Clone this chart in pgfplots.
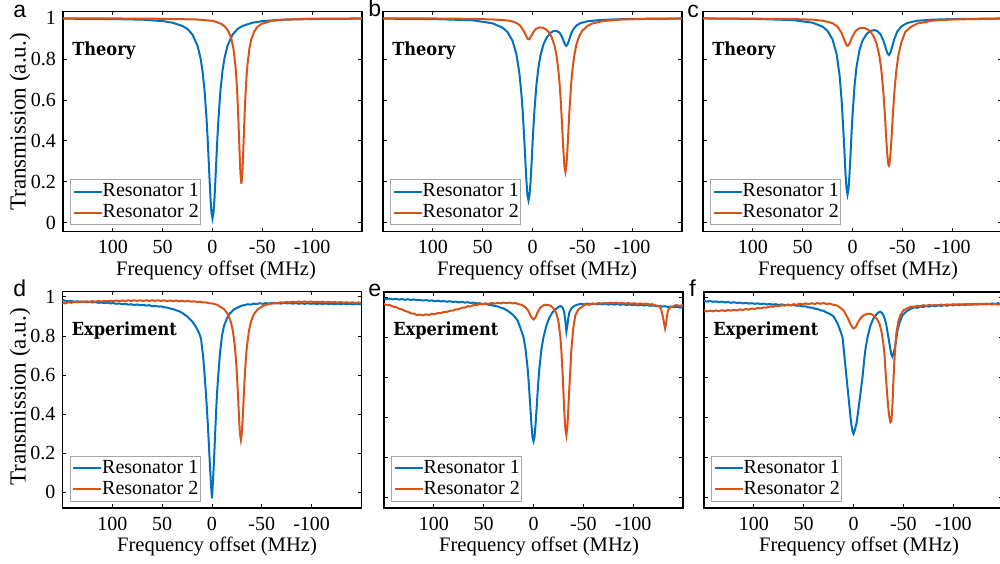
\documentclass[border=0pt]{standalone}
\usepackage{fontspec}
\setmainfont{Liberation Serif}
\newfontfamily\lblfont{Liberation Sans}
\newfontfamily\tagfont{DejaVu Serif Condensed}
\usepackage{pgfplots}
\pgfplotsset{compat=1.18}
\definecolor{res1}{HTML}{0072BD}
\definecolor{res2}{HTML}{D95319}
\definecolor{legframe}{HTML}{A6A6A6}

% 1 px of the reference = 0.5pt
\pgfplotsset{
  panel/.style={
    scale only axis, width=149.5pt,
    xmin=-150, xmax=150, x dir=reverse,
    xtick={-100,-50,0,50,100},
    ytick={0,0.2,0.4,0.6,0.8,1},
    tick align=inside, major tick length=1.8pt,
    tick style={black, line width=0.4pt},
    axis line style={black, line width=0.9pt},
    ticklabel style={font=\fontsize{10}{12}\selectfont},
    xticklabel style={yshift=-1pt},
    /pgf/number format/assume math mode=true,
    legend cell align=left,
    legend image code/.code={\draw[##1] (0pt,0pt) -- (14pt,0pt);},
    legend style={at={(axis description cs:0.024,0.028)}, anchor=south west,
      draw=legframe, line width=0.5pt, fill=white,
      inner xsep=1pt, inner ysep=0.5pt, row sep=-0.5pt,
      font=\fontsize{10}{12}\selectfont,
      nodes={inner xsep=0pt, inner ysep=1.5pt}},
    every axis plot/.append style={line width=1pt},
  },
  toprow/.style={panel, height=110pt, ymin=-0.044, ymax=1.033},
  botrow/.style={panel, height=108pt, ymin=-0.054, ymax=1.027},
  noy/.style={yticklabels={}},
}
\newcommand{\tag}[1]{\node[anchor=west, inner sep=0pt, font=\tagfont\bfseries\fontsize{9}{11}\selectfont] at (axis description cs:0.03,0.82) {#1};}

\begin{document}
\begin{tikzpicture}
\useasboundingbox (0,0) rectangle (500pt,-281.5pt);

% ---------- a: theory, uncoupled ----------
\begin{axis}[toprow, at={(31.5pt,-5.75pt)}, anchor=north west]
\addplot[res1] coordinates {
 (150,0.998) (100,0.996) (70,0.993) (50,0.986) (40,0.978) (30,0.962) (25,0.947)
 (20,0.919) (15,0.865) (12,0.804) (10,0.741) (8,0.647) (6,0.51) (5,0.422) (4,0.321)
 (3,0.216) (2,0.118) (1,0.047) (0,0.02) (-1,0.047) (-2,0.118) (-3,0.216) (-4,0.321)
 (-5,0.422) (-6,0.51) (-8,0.647) (-10,0.741) (-12,0.804) (-15,0.865) (-20,0.919)
 (-25,0.947) (-30,0.962) (-40,0.978) (-50,0.986) (-70,0.993) (-100,0.996) (-150,0.998)};
\addlegendentry{Resonator 1}
\addplot[res2] coordinates {
 (150,0.999) (100,0.999) (60,0.998) (16,0.994) (-1,0.987) (-9,0.972) (-13,0.957)
 (-16,0.936) (-19,0.898) (-21,0.851) (-23,0.768) (-24,0.703) (-25,0.616) (-26,0.501)
 (-27,0.366) (-28,0.242) (-29,0.19) (-30,0.242) (-31,0.366) (-32,0.501) (-33,0.616)
 (-34,0.703) (-35,0.768) (-37,0.851) (-39,0.898) (-42,0.936) (-45,0.957) (-49,0.972)
 (-59,0.987) (-74,0.994) (-99,0.998) (-150,0.999)};
\addlegendentry{Resonator 2}
\tag{Theory}
\end{axis}

% ---------- b: theory, coupled ----------
\begin{axis}[toprow, noy, at={(191.5pt,-5.75pt)}, anchor=north west]
\addplot[res1] coordinates {
 (150,0.998) (100,0.996) (60,0.990) (40,0.975) (30,0.954) (25,0.932) (20,0.889)
 (16,0.821) (13,0.725) (11,0.622) (10,0.554) (9,0.474) (8,0.382) (7,0.286) (6,0.197)
 (5,0.131) (4,0.108) (3,0.132) (2,0.197) (1,0.286) (0,0.382) (-1,0.473) (-2,0.553)
 (-4,0.677) (-6,0.761) (-8,0.818) (-11,0.872) (-14,0.904) (-18,0.928) (-21,0.937)
 (-24,0.938) (-27,0.930) (-29,0.915) (-31,0.892) (-32,0.879) (-33,0.868) (-34,0.865)
 (-35,0.871) (-36,0.883) (-37,0.898) (-39,0.927) (-41,0.946) (-44,0.964) (-48,0.976)
 (-55,0.985) (-65,0.990) (-80,0.994) (-100,0.997) (-150,0.999)};
\addlegendentry{Resonator 1}
\addplot[res2] coordinates {
 (150,0.999) (100,0.999) (60,0.997) (40,0.994) (30,0.991) (25,0.989) (20,0.984)
 (15,0.974) (12,0.962) (9,0.940) (7,0.919) (5,0.900) (4,0.897) (3,0.899) (1,0.915)
 (-1,0.933) (-3,0.945) (-5,0.952) (-7,0.955) (-10,0.954) (-13,0.947) (-16,0.934)
 (-19,0.910) (-22,0.868) (-24,0.820) (-26,0.744) (-27,0.690) (-28,0.622) (-29,0.540)
 (-30,0.446) (-31,0.351) (-32,0.277) (-33,0.248) (-34,0.277) (-35,0.351) (-36,0.446)
 (-37,0.540) (-38,0.622) (-39,0.690) (-40,0.744) (-42,0.820) (-44,0.871) (-47,0.914)
 (-50,0.939) (-55,0.962) (-60,0.974) (-70,0.986) (-90,0.994) (-120,0.997) (-150,0.998)};
\addlegendentry{Resonator 2}
\tag{Theory}
\end{axis}

% ---------- c: theory, coupled, larger detuning ----------
\begin{axis}[toprow, noy, at={(351.5pt,-5.75pt)}, anchor=north west]
\addplot[res1] coordinates {
 (150,0.999) (100,0.997) (60,0.991) (40,0.978) (30,0.959) (25,0.938) (20,0.896)
 (16,0.826) (13,0.722) (11,0.605) (9,0.436) (8,0.335) (7,0.238) (6,0.166) (5,0.137)
 (4,0.165) (3,0.236) (2,0.333) (1,0.434) (0,0.525) (-2,0.667) (-4,0.761) (-7,0.844)
 (-10,0.890) (-14,0.922) (-18,0.938) (-22,0.942) (-25,0.937) (-28,0.922) (-31,0.891)
 (-33,0.859) (-35,0.829) (-36.5,0.820) (-38,0.831) (-40,0.864) (-42,0.899) (-45,0.935)
 (-49,0.960) (-55,0.977) (-65,0.988) (-80,0.993) (-100,0.996) (-150,0.999)};
\addlegendentry{Resonator 1}
\addplot[res2] coordinates {
 (150,0.999) (100,0.998) (60,0.996) (40,0.993) (30,0.988) (20,0.976) (15,0.959)
 (11,0.929) (8,0.891) (6,0.868) (5,0.865) (4,0.867) (2,0.887) (0,0.911) (-3,0.937)
 (-6,0.949) (-9,0.953) (-12,0.952) (-15,0.946) (-18,0.934) (-21,0.913) (-24,0.878)
 (-27,0.815) (-29,0.744) (-31,0.637) (-32,0.566) (-33,0.485) (-34,0.400) (-35,0.327)
 (-36,0.283) (-36.5,0.278) (-37,0.283) (-38,0.327) (-39,0.400) (-40,0.485) (-41,0.566)
 (-42,0.637) (-44,0.746) (-46,0.819) (-49,0.882) (-53,0.933) (-58,0.956) (-65,0.974)
 (-80,0.988) (-100,0.994) (-150,0.998)};
\addlegendentry{Resonator 2}
\tag{Theory}
\end{axis}

% ---------- d: experiment ----------
\begin{axis}[botrow, at={(31.25pt,-145.75pt)}, anchor=north west, ymin=-0.080, ymax=1.027, height=108.25pt]
\addplot[res1] coordinates {
 (150,0.985) (147,0.979) (144,0.977) (141,0.978) (138,0.975) (135,0.977) (132,0.974)
 (129,0.976) (126,0.972) (123,0.974) (120,0.971) (117,0.973) (114,0.969) (111,0.971)
 (108,0.968) (105,0.970) (102,0.966) (99,0.968) (96,0.964) (93,0.966) (90,0.962)
 (87,0.964) (84,0.960) (81,0.962) (78,0.958) (75,0.961) (72,0.957) (69,0.959)
 (66,0.955) (63,0.957) (60,0.952) (57,0.954) (54,0.950) (51,0.951) (48,0.946)
 (45,0.945) (42,0.940) (39,0.937) (36,0.931) (33,0.926) (30,0.918) (25,0.900)
 (20,0.875) (16,0.845) (13,0.815) (11,0.785) (9,0.70) (8,0.64) (7,0.57) (6,0.50)
 (5,0.42) (4,0.33) (3,0.23) (2,0.13) (1,0.04) (0,-0.03) (-1,0.06) (-2,0.16) (-3,0.28)
 (-4,0.40) (-5,0.50) (-6,0.58) (-8,0.71) (-10,0.80) (-12,0.85) (-15,0.89)
 (-18,0.915) (-22,0.935) (-27,0.948) (-30,0.955) (-33,0.958) (-36,0.962) (-39,0.960)
 (-42,0.965) (-45,0.963) (-48,0.967) (-51,0.964) (-54,0.968) (-57,0.965) (-60,0.969)
 (-63,0.966) (-66,0.968) (-69,0.965) (-72,0.969) (-75,0.966) (-78,0.968) (-81,0.965)
 (-84,0.968) (-87,0.964) (-90,0.967) (-93,0.964) (-96,0.967) (-99,0.964) (-102,0.966)
 (-105,0.963) (-108,0.966) (-111,0.963) (-114,0.966) (-117,0.963) (-120,0.965)
 (-123,0.962) (-126,0.965) (-129,0.962) (-132,0.965) (-135,0.962) (-138,0.964)
 (-141,0.961) (-144,0.964) (-147,0.962) (-150,0.963)};
\addlegendentry{Resonator 1}
\addplot[res2] coordinates {
 (150,0.970) (147,0.966) (144,0.972) (141,0.969) (138,0.974) (135,0.971) (132,0.976)
 (129,0.973) (126,0.977) (123,0.974) (120,0.978) (117,0.975) (114,0.979) (111,0.976)
 (108,0.979) (105,0.977) (102,0.980) (99,0.977) (96,0.981) (93,0.978) (90,0.981)
 (87,0.978) (84,0.982) (81,0.979) (78,0.982) (75,0.979) (72,0.982) (69,0.979)
 (66,0.982) (63,0.979) (60,0.982) (57,0.979) (54,0.982) (51,0.979) (48,0.982)
 (45,0.978) (42,0.981) (39,0.978) (36,0.981) (33,0.977) (30,0.980) (27,0.976)
 (24,0.979) (21,0.975) (18,0.977) (15,0.973) (12,0.975) (9,0.971) (6,0.971)
 (3,0.967) (0,0.966) (-3,0.962) (-5,0.960) (-7,0.953) (-12,0.937) (-16,0.911)
 (-19,0.871) (-21,0.824) (-23,0.744) (-24,0.683) (-25,0.604) (-26,0.506) (-27,0.397)
 (-28,0.303) (-29,0.268) (-30,0.303) (-31,0.397) (-32,0.506) (-33,0.604) (-34,0.683)
 (-35,0.744) (-37,0.824) (-39,0.871) (-42,0.911) (-46,0.937) (-51,0.953) (-55,0.960)
 (-59,0.964) (-63,0.969) (-66,0.967) (-69,0.972) (-72,0.970) (-75,0.974) (-78,0.971)
 (-81,0.975) (-84,0.972) (-87,0.976) (-90,0.973) (-93,0.976) (-96,0.973) (-99,0.976)
 (-102,0.972) (-105,0.975) (-108,0.972) (-111,0.975) (-114,0.971) (-117,0.974)
 (-120,0.971) (-123,0.974) (-126,0.970) (-129,0.973) (-132,0.970) (-135,0.972)
 (-138,0.969) (-141,0.972) (-144,0.968) (-147,0.971) (-150,0.969)};
\addlegendentry{Resonator 2}
\tag{Experiment}
\end{axis}

% ---------- e: experiment ----------
\begin{axis}[botrow, noy, at={(192pt,-146pt)}, anchor=north west]
\addplot[res1] coordinates {
 (150,0.995) (147,0.991) (144,0.994) (141,0.990) (138,0.993) (135,0.989) (132,0.992)
 (129,0.988) (126,0.991) (123,0.987) (120,0.990) (117,0.986) (114,0.988) (111,0.984)
 (108,0.987) (105,0.983) (102,0.985) (99,0.981) (96,0.984) (93,0.980) (90,0.982)
 (87,0.978) (84,0.981) (81,0.977) (78,0.979) (75,0.975) (72,0.978) (69,0.974)
 (66,0.976) (63,0.972) (60,0.974) (57,0.970) (54,0.971) (51,0.967) (48,0.967)
 (45,0.963) (42,0.962) (39,0.957) (36,0.955) (33,0.949) (30,0.945) (27,0.936)
 (25,0.930) (20,0.910) (16,0.885) (13,0.845) (10,0.80) (8,0.742) (6,0.65) (5,0.588)
 (4,0.515) (3,0.436) (2,0.36) (1,0.30) (0,0.28) (-1,0.30) (-2,0.36) (-3,0.436)
 (-4,0.515) (-5,0.588) (-6,0.65) (-8,0.742) (-10,0.80) (-13,0.86) (-16,0.90)
 (-19,0.925) (-22,0.94) (-25,0.952) (-27,0.957) (-29,0.95) (-30,0.94) (-31,0.92)
 (-32,0.88) (-33,0.83) (-34,0.86) (-35,0.90) (-36,0.925) (-38,0.945) (-41,0.958)
 (-45,0.965) (-48,0.968) (-51,0.965) (-54,0.969) (-57,0.966) (-60,0.969) (-63,0.965)
 (-66,0.968) (-69,0.965) (-72,0.968) (-75,0.964) (-78,0.967) (-81,0.964) (-84,0.967)
 (-87,0.963) (-90,0.966) (-93,0.962) (-96,0.965) (-99,0.961) (-102,0.964)
 (-105,0.960) (-108,0.963) (-111,0.959) (-114,0.962) (-117,0.958) (-120,0.960)
 (-123,0.956) (-126,0.958) (-129,0.954) (-132,0.956) (-135,0.952) (-138,0.954)
 (-141,0.951) (-144,0.953) (-147,0.949) (-150,0.951)};
\addlegendentry{Resonator 1}
\addplot[res2] coordinates {
 (150,0.967) (147,0.962) (144,0.961) (141,0.954) (138,0.951) (135,0.944) (132,0.940)
 (129,0.932) (126,0.928) (123,0.920) (120,0.919) (117,0.912) (114,0.914) (111,0.910)
 (108,0.915) (105,0.912) (102,0.918) (99,0.916) (96,0.922) (93,0.921) (90,0.927)
 (87,0.927) (84,0.933) (81,0.934) (78,0.940) (75,0.941) (72,0.948) (69,0.949)
 (66,0.956) (63,0.955) (60,0.962) (57,0.961) (54,0.967) (51,0.965) (48,0.970)
 (45,0.967) (42,0.972) (39,0.969) (36,0.973) (33,0.970) (30,0.974) (27,0.971)
 (24,0.974) (21,0.970) (18,0.972) (15,0.966) (12,0.963) (10,0.958) (6,0.94) (4,0.92)
 (2,0.90) (0,0.89) (-2,0.90) (-4,0.925) (-7,0.95) (-11,0.963) (-15,0.962) (-18,0.955)
 (-21,0.94) (-23,0.92) (-25,0.88) (-27,0.80) (-28,0.73) (-29,0.64) (-30,0.53)
 (-31,0.42) (-32,0.34) (-33,0.31) (-34,0.35) (-35,0.45) (-36,0.55) (-37,0.64)
 (-38,0.74) (-40,0.85) (-42,0.91) (-45,0.94) (-50,0.958) (-53,0.965) (-56,0.963)
 (-59,0.969) (-62,0.967) (-65,0.972) (-68,0.969) (-71,0.973) (-74,0.970) (-77,0.974)
 (-80,0.971) (-83,0.974) (-86,0.970) (-89,0.973) (-92,0.969) (-95,0.972) (-98,0.968)
 (-101,0.971) (-104,0.967) (-107,0.970) (-110,0.966) (-113,0.969) (-116,0.965)
 (-119,0.966) (-122,0.961) (-125,0.958) (-127,0.950) (-128,0.94) (-129,0.92)
 (-130,0.90) (-131,0.87) (-132,0.845) (-133,0.87) (-134,0.91) (-135,0.935)
 (-137,0.950) (-140,0.955) (-143,0.962) (-146,0.958) (-150,0.961)};
\addlegendentry{Resonator 2}
\tag{Experiment}
\end{axis}

% ---------- f: experiment ----------
\begin{axis}[botrow, noy, at={(352pt,-146pt)}, anchor=north west]
\addplot[res1] coordinates {
 (150,0.983) (147,0.979) (144,0.982) (141,0.978) (138,0.980) (135,0.976) (132,0.979)
 (129,0.975) (126,0.977) (123,0.973) (120,0.976) (117,0.972) (114,0.974) (111,0.970)
 (108,0.973) (105,0.969) (102,0.971) (99,0.968) (96,0.970) (93,0.966) (90,0.969)
 (87,0.965) (84,0.967) (81,0.964) (78,0.966) (75,0.962) (72,0.965) (69,0.961)
 (66,0.963) (63,0.960) (60,0.962) (57,0.958) (54,0.959) (51,0.955) (48,0.955)
 (45,0.950) (42,0.949) (39,0.944) (36,0.942) (33,0.935) (30,0.933) (27,0.924)
 (24,0.918) (20,0.905) (16,0.87) (13,0.83) (11,0.80) (9,0.70) (7,0.60) (5,0.50)
 (3,0.40) (2,0.36) (1,0.33) (0,0.317) (-1,0.33) (-3,0.37) (-5,0.44) (-7,0.52)
 (-9,0.60) (-11,0.70) (-12,0.74) (-14,0.80) (-17,0.86) (-20,0.895) (-23,0.915)
 (-25,0.925) (-27,0.928) (-29,0.92) (-31,0.90) (-33,0.86) (-35,0.80) (-37,0.74)
 (-38,0.715) (-39,0.703) (-40,0.715) (-42,0.76) (-44,0.83) (-46,0.87) (-49,0.91)
 (-53,0.93) (-58,0.945) (-61,0.950) (-64,0.948) (-67,0.954) (-70,0.952) (-73,0.957)
 (-76,0.954) (-79,0.959) (-82,0.956) (-85,0.960) (-88,0.957) (-91,0.962) (-94,0.958)
 (-97,0.963) (-100,0.960) (-103,0.964) (-106,0.961) (-109,0.965) (-112,0.962)
 (-115,0.966) (-118,0.963) (-121,0.967) (-124,0.964) (-127,0.968) (-130,0.965)
 (-133,0.969) (-136,0.966) (-139,0.970) (-142,0.967) (-145,0.971) (-148,0.968)
 (-150,0.970)};
\addlegendentry{Resonator 1}
\addplot[res2] coordinates {
 (150,0.935) (147,0.930) (144,0.934) (141,0.930) (138,0.935) (135,0.931) (132,0.936)
 (129,0.932) (126,0.937) (123,0.934) (120,0.938) (117,0.935) (114,0.940) (111,0.937)
 (108,0.942) (105,0.939) (102,0.944) (99,0.942) (96,0.947) (93,0.945) (90,0.950)
 (87,0.949) (84,0.954) (81,0.953) (78,0.958) (75,0.956) (72,0.961) (69,0.959)
 (66,0.964) (63,0.961) (60,0.966) (57,0.963) (54,0.968) (51,0.965) (48,0.970)
 (45,0.966) (42,0.971) (39,0.967) (36,0.972) (33,0.968) (30,0.972) (27,0.967)
 (24,0.969) (20,0.963) (17,0.960) (15,0.955) (10,0.935) (6,0.90) (3,0.865) (1,0.85)
 (0,0.845) (-2,0.85) (-4,0.87) (-7,0.895) (-10,0.91) (-14,0.918) (-17,0.918)
 (-20,0.91) (-23,0.895) (-26,0.87) (-28,0.83) (-30,0.77) (-31,0.72) (-32,0.64)
 (-33,0.57) (-34,0.50) (-35,0.44) (-36,0.40) (-37,0.375) (-38,0.38) (-39,0.45)
 (-40,0.58) (-41,0.68) (-42,0.76) (-43,0.82) (-45,0.88) (-47,0.91) (-50,0.935)
 (-55,0.948) (-58,0.954) (-61,0.953) (-64,0.958) (-67,0.956) (-70,0.961) (-73,0.958)
 (-76,0.962) (-79,0.959) (-82,0.963) (-85,0.960) (-88,0.964) (-91,0.961) (-94,0.965)
 (-97,0.962) (-100,0.966) (-103,0.963) (-106,0.966) (-109,0.963) (-112,0.967)
 (-115,0.964) (-118,0.967) (-121,0.964) (-124,0.968) (-127,0.965) (-130,0.968)
 (-133,0.965) (-136,0.968) (-139,0.964) (-142,0.967) (-145,0.964) (-148,0.967)
 (-150,0.965)};
\addlegendentry{Resonator 2}
\tag{Experiment}
\end{axis}

% axis titles
\begin{scope}[every node/.style={font=\fontsize{10.3}{12}\selectfont}]
\node at (108pt,-135pt) {Frequency offset (MHz)};
\node at (268.5pt,-135pt) {Frequency offset (MHz)};
\node at (429pt,-135pt) {Frequency offset (MHz)};
\node at (108.5pt,-273pt) {Frequency offset (MHz)};
\node at (269.5pt,-273pt) {Frequency offset (MHz)};
\node at (429.5pt,-273pt) {Frequency offset (MHz)};
\end{scope}
\begin{scope}[every node/.style={rotate=90, font=\fontsize{11.5}{13}\selectfont}]
\node at (10pt,-61pt) {Transmission (a.u.)};
\node at (10pt,-198.5pt) {Transmission (a.u.)};
\end{scope}

% panel letters
\begin{scope}[every node/.style={anchor=base west, inner sep=0pt, font=\lblfont\fontsize{11.5}{13}\selectfont}]
\node at (6.5pt,-8.5pt) {a};
\node at (184pt,-8.4pt) {b};
\node at (343.5pt,-8.5pt) {c};
\node at (6.5pt,-148.3pt) {d};
\node at (184pt,-148.3pt) {e};
\node at (344.5pt,-148.3pt) {f};
\end{scope}
\end{tikzpicture}
\end{document}
